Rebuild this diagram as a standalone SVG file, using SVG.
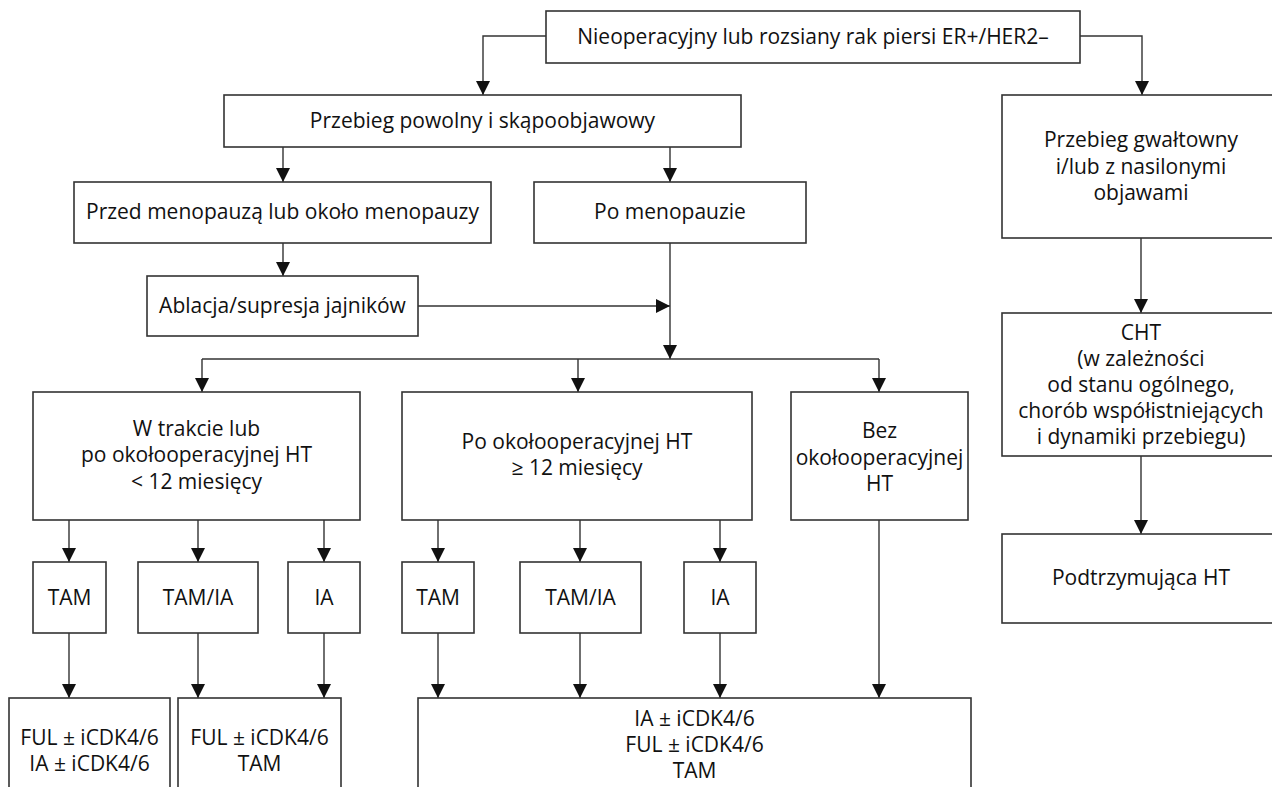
<svg xmlns="http://www.w3.org/2000/svg" width="1272" height="787" viewBox="0 0 1272 787">
<defs>
<marker id="ah" viewBox="0 0 14 14" refX="14" refY="7" markerWidth="14" markerHeight="14" markerUnits="userSpaceOnUse" orient="auto">
<path d="M0,0 L14,7 L0,14 Z" fill="#111"/>
</marker>
<style>
.box{fill:#fff;stroke:#333;stroke-width:1.6}
.t{font-family:"Open Sans","Noto Sans","Liberation Sans",sans-serif;font-size:21px;fill:#111;text-anchor:middle}
.c{fill:none;stroke:#333;stroke-width:1.4}
.a{fill:none;stroke:#333;stroke-width:1.4;marker-end:url(#ah)}
</style>
</defs>
<rect width="1272" height="787" fill="#fff"/>
<g id="connectors">
<path class="a" d="M546,36 H483 V95"/>
<path class="a" d="M1080,36 H1142 V95"/>
<path class="a" d="M283,147 V182"/>
<path class="a" d="M670,147 V182"/>
<path class="a" d="M283,243 V276"/>
<path class="a" d="M418,306 H670"/>
<path class="a" d="M670,243 V359"/>
<path class="c" d="M202,359 H879"/>
<path class="a" d="M202,359 V392"/>
<path class="a" d="M578,359 V392"/>
<path class="a" d="M879,359 V392"/>
<path class="a" d="M69,520 V562"/>
<path class="a" d="M198,520 V562"/>
<path class="a" d="M324,520 V562"/>
<path class="a" d="M438,520 V562"/>
<path class="a" d="M580,520 V562"/>
<path class="a" d="M720,520 V562"/>
<path class="a" d="M69,633 V698"/>
<path class="a" d="M198,633 V698"/>
<path class="a" d="M324,633 V698"/>
<path class="a" d="M438,633 V698"/>
<path class="a" d="M580,633 V698"/>
<path class="a" d="M720,633 V698"/>
<path class="a" d="M879,520 V698"/>
<path class="a" d="M1141,238 V313"/>
<path class="a" d="M1141,456 V534"/>
</g>
<g id="n-root"><rect class="box" x="546" y="11" width="534" height="52"/><text class="t" x="813" y="44">Nieoperacyjny lub rozsiany rak piersi ER+/HER2–</text></g>
<g id="n-powolny"><rect class="box" x="224" y="95" width="517" height="52"/><text class="t" x="482.5" y="128">Przebieg powolny i skąpoobjawowy</text></g>
<g id="n-przed"><rect class="box" x="74" y="182" width="417" height="61"/><text class="t" x="282.5" y="219">Przed menopauzą lub około menopauzy</text></g>
<g id="n-po"><rect class="box" x="534" y="182" width="272" height="61"/><text class="t" x="670" y="219">Po menopauzie</text></g>
<g id="n-ablacja"><rect class="box" x="147" y="276" width="271" height="60"/><text class="t" x="282.5" y="313">Ablacja/supresja jajników</text></g>
<g id="n-wtrakcie"><rect class="box" x="33" y="392" width="327" height="128"/><text class="t" x="196.5" y="436">W trakcie lub</text><text class="t" x="196.5" y="462">po okołooperacyjnej HT</text><text class="t" x="196.5" y="489">&lt; 12 miesięcy</text></g>
<g id="n-pook"><rect class="box" x="402" y="392" width="350" height="128"/><text class="t" x="577" y="449">Po okołooperacyjnej HT</text><text class="t" x="577" y="475">≥ 12 miesięcy</text></g>
<g id="n-bez"><rect class="box" x="791" y="392" width="177" height="128"/><text class="t" x="879.5" y="438">Bez</text><text class="t" x="879.5" y="465">okołooperacyjnej</text><text class="t" x="879.5" y="491">HT</text></g>
<g id="n-tam1"><rect class="box" x="33" y="562" width="73" height="71"/><text class="t" x="69.5" y="605">TAM</text></g>
<g id="n-tamia1"><rect class="box" x="138" y="562" width="120" height="71"/><text class="t" x="198" y="605">TAM/IA</text></g>
<g id="n-ia1"><rect class="box" x="288" y="562" width="72" height="71"/><text class="t" x="324" y="605">IA</text></g>
<g id="n-tam2"><rect class="box" x="402" y="562" width="72" height="71"/><text class="t" x="438" y="605">TAM</text></g>
<g id="n-tamia2"><rect class="box" x="520" y="562" width="121" height="71"/><text class="t" x="580.5" y="605">TAM/IA</text></g>
<g id="n-ia2"><rect class="box" x="684" y="562" width="72" height="71"/><text class="t" x="720" y="605">IA</text></g>
<g id="n-res1"><rect class="box" x="9" y="698" width="161" height="110"/><text class="t" x="89.5" y="745">FUL ± iCDK4/6</text><text class="t" x="89.5" y="771">IA ± iCDK4/6</text></g>
<g id="n-res2"><rect class="box" x="178" y="698" width="163" height="110"/><text class="t" x="259.5" y="745">FUL ± iCDK4/6</text><text class="t" x="259.5" y="771">TAM</text></g>
<g id="n-res3"><rect class="box" x="418" y="698" width="553" height="110"/><text class="t" x="694.5" y="726">IA ± iCDK4/6</text><text class="t" x="694.5" y="752">FUL ± iCDK4/6</text><text class="t" x="694.5" y="778">TAM</text></g>
<g id="n-gwalt"><rect class="box" x="1002" y="95" width="290" height="143"/><text class="t" x="1141" y="147">Przebieg gwałtowny</text><text class="t" x="1141" y="174">i/lub z nasilonymi</text><text class="t" x="1141" y="200">objawami</text></g>
<g id="n-cht"><rect class="box" x="1002" y="313" width="290" height="143"/><text class="t" x="1141" y="340">CHT</text><text class="t" x="1141" y="366">(w zależności</text><text class="t" x="1141" y="392">od stanu ogólnego,</text><text class="t" x="1141" y="418">chorób współistniejących</text><text class="t" x="1141" y="444">i dynamiki przebiegu)</text></g>
<g id="n-podt"><rect class="box" x="1002" y="534" width="290" height="89"/><text class="t" x="1141" y="585">Podtrzymująca HT</text></g>
</svg>
